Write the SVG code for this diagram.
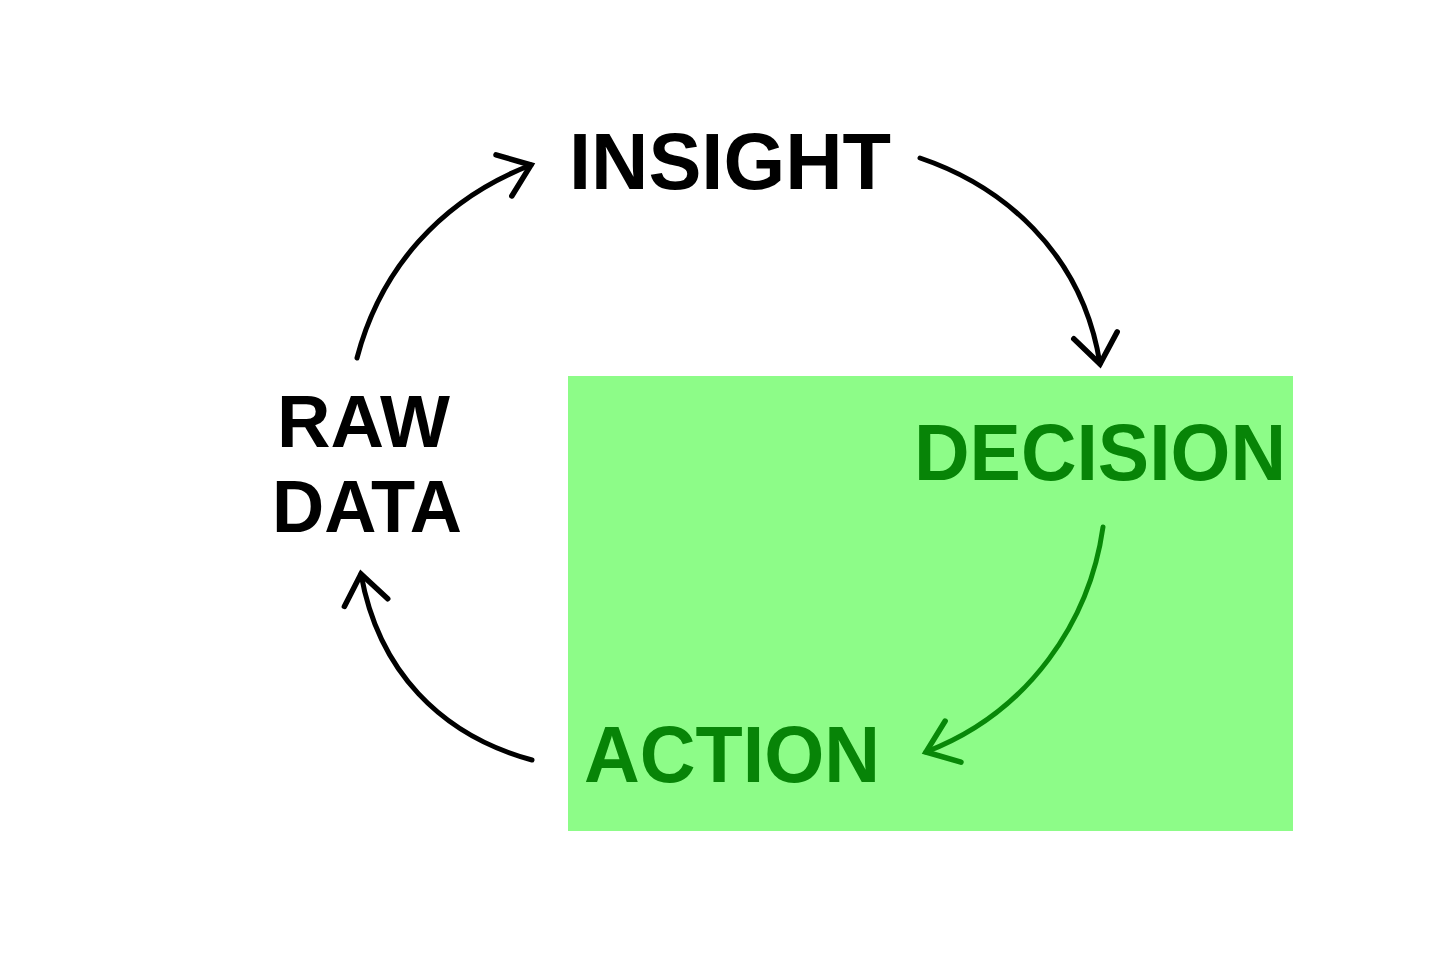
<svg xmlns="http://www.w3.org/2000/svg" width="1456" height="971" viewBox="0 0 1456 971">
<style>
.lbl{font-family:"Liberation Sans",Arial,sans-serif;font-weight:bold;}
.blk{fill:#000;}
.grn{fill:#078407;}
.conn{fill:none;stroke-width:5;stroke-linecap:round;}
.cb{stroke:#000;}
.cg{stroke:#088808;}
</style>
<defs>
<marker id="ahb" viewBox="0 0 40 52" refX="35" refY="26" markerWidth="40" markerHeight="52" markerUnits="userSpaceOnUse" orient="auto">
<path d="M6,4 L35,26 L6,48" fill="none" stroke="#000" stroke-width="5.5" stroke-linecap="round" stroke-linejoin="miter"/>
</marker>
<marker id="ahg" viewBox="0 0 40 52" refX="35" refY="26" markerWidth="40" markerHeight="52" markerUnits="userSpaceOnUse" orient="auto">
<path d="M6,4 L35,26 L6,48" fill="none" stroke="#088808" stroke-width="5.5" stroke-linecap="round" stroke-linejoin="miter"/>
</marker>
</defs>
<rect width="1456" height="971" fill="#ffffff"/>
<rect id="highlight" x="568" y="376" width="725" height="455" fill="#8dfc88"/>
<g id="connectors">
<path class="conn cb" d="M357,358 C380,270 440,200 531,165" marker-end="url(#ahb)"/>
<path class="conn cb" d="M920,158 C1000,185 1082,250 1100,364" marker-end="url(#ahb)"/>
<path class="conn cg" d="M1103,527 C1090,620 1030,712 926,752" marker-end="url(#ahg)"/>
<path class="conn cb" d="M532,760 C440,735 378,670 361,574" marker-end="url(#ahb)"/>
</g>
<g id="node-insight">
<text class="lbl blk" x="569" y="189" font-size="79" textLength="322" lengthAdjust="spacingAndGlyphs">INSIGHT</text>
</g>
<g id="node-raw-data">
<text class="lbl blk" x="277" y="447" font-size="75" textLength="173" lengthAdjust="spacingAndGlyphs">RAW</text>
<text class="lbl blk" x="272" y="532" font-size="75" textLength="190" lengthAdjust="spacingAndGlyphs">DATA</text>
</g>
<g id="node-decision">
<text class="lbl grn" x="914" y="480" font-size="80" textLength="372" lengthAdjust="spacingAndGlyphs">DECISION</text>
</g>
<g id="node-action">
<text class="lbl grn" x="584" y="782" font-size="79" textLength="296" lengthAdjust="spacingAndGlyphs">ACTION</text>
</g>
</svg>
